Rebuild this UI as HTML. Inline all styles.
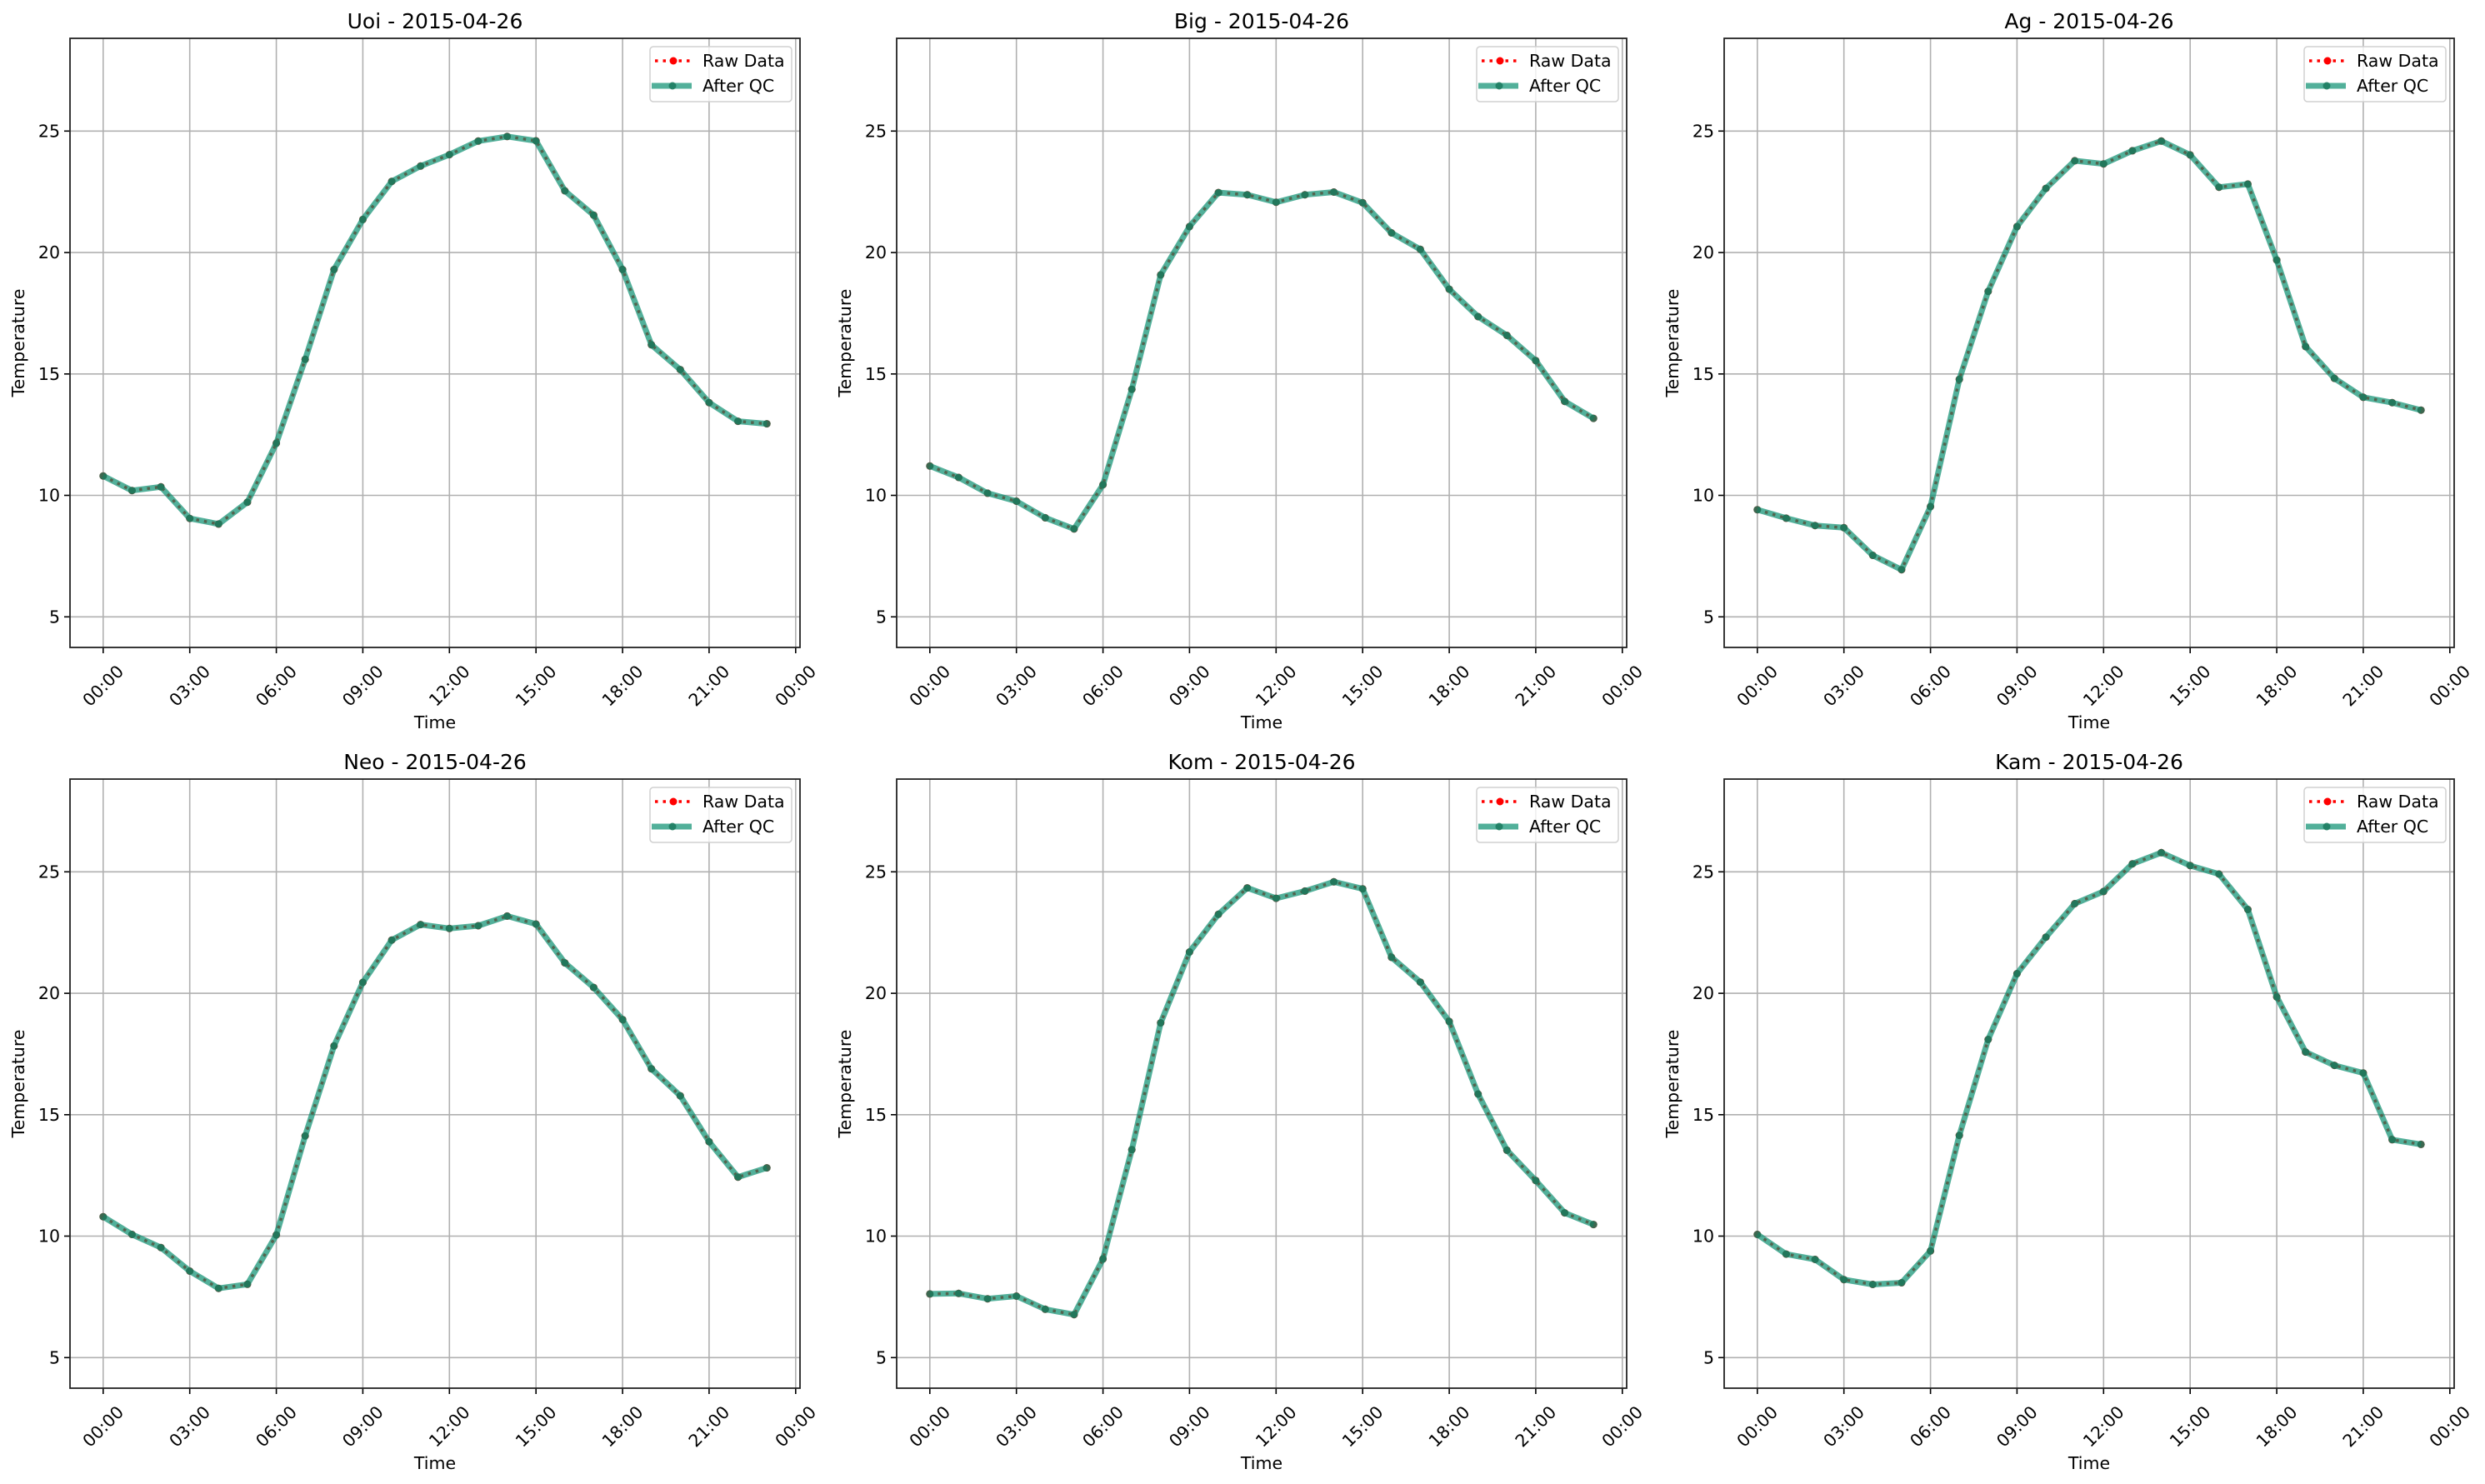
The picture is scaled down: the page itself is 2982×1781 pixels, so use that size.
<!DOCTYPE html>
<html><head><meta charset="utf-8">
<style>
html,body{margin:0;padding:0;background:#fff;}
svg{display:block;font-family:"DejaVu Sans","Liberation Sans",sans-serif;}
</style></head>
<body>
<svg id="s" width="2982" height="1781" viewBox="0 0 2982 1781" xmlns="http://www.w3.org/2000/svg"></svg>
<script>
const data = [
 ["Uoi",[10.8,10.2,10.35,9.05,8.82,9.72,12.15,15.6,19.3,21.36,22.93,23.56,24.03,24.59,24.78,24.6,22.54,21.54,19.3,16.2,15.18,13.82,13.05,12.95]],
 ["Big",[11.21,10.74,10.09,9.76,9.08,8.62,10.44,14.37,19.08,21.07,22.47,22.38,22.07,22.38,22.49,22.05,20.81,20.13,18.49,17.36,16.59,15.55,13.87,13.17]],
 ["Ag",[9.41,9.06,8.76,8.67,7.53,6.94,9.54,14.78,18.4,21.07,22.64,23.78,23.65,24.19,24.59,24.02,22.69,22.82,19.69,16.13,14.82,14.04,13.82,13.51]],
 ["Neo",[10.8,10.07,9.53,8.56,7.85,8.02,10.05,14.13,17.83,20.45,22.19,22.83,22.67,22.78,23.18,22.85,21.25,20.24,18.92,16.89,15.78,13.89,12.43,12.81]],
 ["Kom",[7.62,7.64,7.42,7.53,6.99,6.77,9.06,13.56,18.78,21.7,23.25,24.34,23.91,24.21,24.59,24.3,21.48,20.46,18.84,15.85,13.54,12.29,10.96,10.48]],
 ["Kam",[10.07,9.26,9.04,8.21,8.01,8.08,9.39,14.15,18.1,20.81,22.31,23.69,24.19,25.33,25.79,25.26,24.91,23.45,19.85,17.58,17.03,16.72,13.97,13.78]]
];
const lefts=[84,1076,2069], W=876, tops=[46,935], H=731;
const xmin=-1.15,xmax=24.15,ymin=3.74,ymax=28.82;
let o='';
data.forEach((d,i)=>{
 const L=lefts[i%3],T=tops[Math.floor(i/3)],B=T+H,R=L+W;
 const X=h=>L+(h-xmin)/(xmax-xmin)*W, Y=v=>B-(v-ymin)/(ymax-ymin)*H;
 // grid
 for(let h=0;h<=24;h+=3){const x=X(h).toFixed(1);
  o+=`<line x1="${x}" y1="${T}" x2="${x}" y2="${B}" stroke="#b0b0b0" stroke-width="1.6"/>`;
  o+=`<line x1="${x}" y1="${B}" x2="${x}" y2="${B+7}" stroke="#000" stroke-width="1.6"/>`;
  const lab=String(h%24).padStart(2,'0')+':00';
  o+=`<text x="${x}" y="${B+46}" font-size="20.5" text-anchor="middle" dominant-baseline="central" transform="rotate(-45 ${x} ${B+46})">${lab}</text>`;
 }
 for(let v=5;v<=25;v+=5){const y=Y(v).toFixed(1);
  o+=`<line x1="${L}" y1="${y}" x2="${R}" y2="${y}" stroke="#b0b0b0" stroke-width="1.6"/>`;
  o+=`<line x1="${L-7}" y1="${y}" x2="${L}" y2="${y}" stroke="#000" stroke-width="1.6"/>`;
  o+=`<text x="${L-12}" y="${y}" font-size="20.5" text-anchor="end" dominant-baseline="central">${v}</text>`;
 }
 const pts=d[1].map((v,h)=>X(h).toFixed(1)+','+Y(v).toFixed(1)).join(' ');
 o+=`<polyline points="${pts}" fill="none" stroke="#ff0000" stroke-width="3.5" stroke-dasharray="3.5 6"/>`;
 d[1].forEach((v,h)=>{o+=`<circle cx="${X(h).toFixed(1)}" cy="${Y(v).toFixed(1)}" r="4.5" fill="#ff0000"/>`;});
 o+=`<g opacity="0.7"><polyline points="${pts}" fill="none" stroke="#088e6f" stroke-width="7" stroke-linejoin="round"/></g>`;
 d[1].forEach((v,h)=>{o+=`<circle cx="${X(h).toFixed(1)}" cy="${Y(v).toFixed(1)}" r="4.5" fill="#1a7a5e" opacity="0.85"/>`;});
 o+=`<rect x="${L}" y="${T}" width="${W}" height="${H}" fill="none" stroke="#222" stroke-width="1.8"/>`;
 o+=`<text x="${L+W/2}" y="${T-12}" font-size="25" text-anchor="middle">${d[0]} - 2015-04-26</text>`;
 o+=`<text x="${L+W/2}" y="${B+97}" font-size="20.5" text-anchor="middle">Time</text>`;
 o+=`<text x="${L-62}" y="${T+H/2}" font-size="20.5" text-anchor="middle" dominant-baseline="central" transform="rotate(-90 ${L-62} ${T+H/2})">Temperature</text>`;
 // legend
 const lx=R-180, ly=T+10;
 o+=`<rect x="${lx}" y="${ly}" width="170" height="66" rx="4" fill="#fff" fill-opacity="0.8" stroke="#d0d0d0" stroke-width="1.5"/>`;
 o+=`<line x1="${lx+6}" y1="${ly+17}" x2="${lx+50}" y2="${ly+17}" stroke="#ff0000" stroke-width="3.5" stroke-dasharray="3.5 6"/>`;
 o+=`<circle cx="${lx+28}" cy="${ly+17}" r="4.5" fill="#ff0000"/>`;
 o+=`<line x1="${lx+2}" y1="${ly+47}" x2="${lx+50}" y2="${ly+47}" stroke="#088e6f" stroke-opacity="0.7" stroke-width="7"/>`;
 o+=`<circle cx="${lx+27}" cy="${ly+47}" r="4.5" fill="#1a7a5e" opacity="0.85"/>`;
 o+=`<text x="${lx+63}" y="${ly+24}" font-size="20.5">Raw Data</text>`;
 o+=`<text x="${lx+63}" y="${ly+54}" font-size="20.5">After QC</text>`;
});
document.getElementById('s').innerHTML=o;
</script>
</body></html>
